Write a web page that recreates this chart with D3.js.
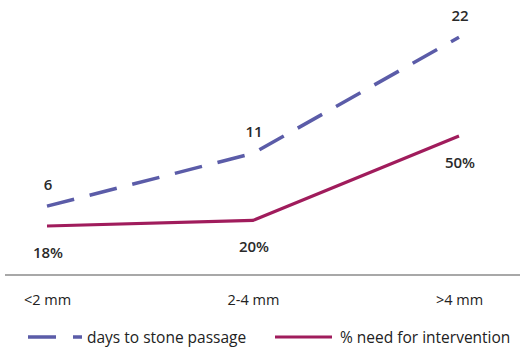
<!DOCTYPE html>
<html>
<head>
<meta charset="utf-8">
<script src="https://cdn.jsdelivr.net/npm/d3@7"></script>
<style>
  html, body { margin: 0; padding: 0; background: #fff; }
  svg { display: block; }
  text { font-family: "Open Sans", "Noto Sans", sans-serif; }
</style>
</head>
<body>
<div id="chart"></div>
<script>
const categories = ["<2 mm", "2-4 mm", ">4 mm"];
const daysValues = [6, 11, 22];
const interventionValues = [18, 20, 50];
const seriesNames = ["days to stone passage", "% need for intervention"];

const W = 520, H = 350;
const svg = d3.select("#chart").append("svg").attr("width", W).attr("height", H);

const x = d3.scalePoint().domain(categories).range([47, 459]);
const yDays = d3.scaleLinear().domain([0, 25]).range([269.5, 5.5]);
const yPct = d3.scaleLinear().domain([0, 100]).range([276.6, -4.6]);

const blue = "#5b5ca8";
const crimson = "#a01c5c";

// baseline axis
const xAxis = d3.axisBottom(x).tickSize(0).tickPadding(20);
const gx = svg.append("g").attr("transform", "translate(0,275)").call(xAxis);
gx.select(".domain").remove();
gx.append("line").attr("x1", 5).attr("x2", 520).attr("y1", 0).attr("y2", 0)
  .attr("stroke", "#a8a8a8").attr("stroke-width", 2);
gx.selectAll(".tick text")
  .attr("font-size", 14.5).attr("fill", "#222")
  .attr("font-family", '"Open Sans", sans-serif');

const daysData = categories.map((c, i) => ({c, v: daysValues[i]}));
const pctData = categories.map((c, i) => ({c, v: interventionValues[i]}));

const lineDays = d3.line().x(d => x(d.c)).y(d => yDays(d.v));
const linePct = d3.line().x(d => x(d.c)).y(d => yPct(d.v));

svg.append("path").datum(pctData).attr("d", linePct)
  .attr("fill", "none").attr("stroke", crimson).attr("stroke-width", 3.2);
svg.append("path").datum(daysData).attr("d", lineDays)
  .attr("fill", "none").attr("stroke", blue).attr("stroke-width", 3.5)
  .attr("stroke-dasharray", "28,16");

// data labels
svg.selectAll(".lblDays").data(daysData).enter().append("text")
  .attr("x", d => x(d.c) + 1).attr("y", d => yDays(d.v) - 22)
  .attr("text-anchor", "middle").attr("dominant-baseline", "central")
  .attr("font-size", 15).attr("font-weight", 600).attr("fill", "#2a2a2a")
  .text(d => d.v);
svg.selectAll(".lblPct").data(pctData).enter().append("text")
  .attr("x", d => x(d.c) + 1).attr("y", d => yPct(d.v) + 26)
  .attr("text-anchor", "middle").attr("dominant-baseline", "central")
  .attr("font-size", 15).attr("font-weight", 600).attr("fill", "#2a2a2a")
  .text(d => d.v + "%");

// legend
const lg = svg.append("g");
lg.append("line").attr("x1", 28).attr("x2", 82).attr("y1", 337).attr("y2", 337)
  .attr("stroke", blue).attr("stroke-width", 3.5).attr("stroke-dasharray", "28,17");
lg.append("text").attr("x", 87).attr("y", 337).attr("dominant-baseline", "central")
  .attr("font-size", 15.5).attr("fill", "#222").text(seriesNames[0]);
lg.append("line").attr("x1", 275).attr("x2", 332).attr("y1", 337).attr("y2", 337)
  .attr("stroke", crimson).attr("stroke-width", 3.2);
lg.append("text").attr("x", 340).attr("y", 337).attr("dominant-baseline", "central")
  .attr("font-size", 15.5).attr("fill", "#222").text(seriesNames[1]);
</script>
</body>
</html>
